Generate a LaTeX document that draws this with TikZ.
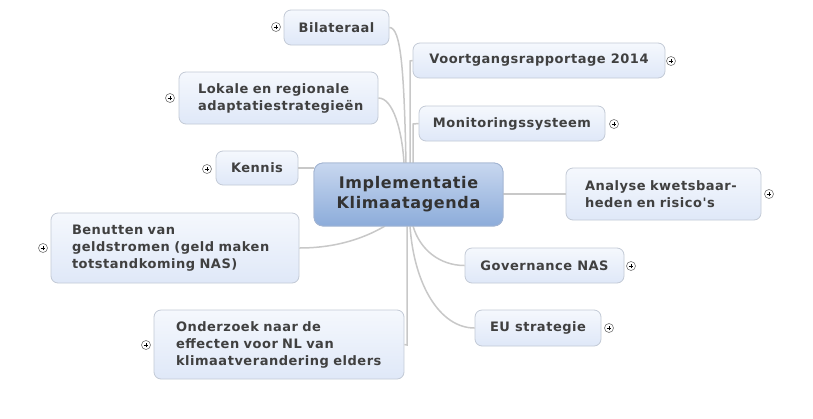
\documentclass[tikz,border=0pt]{standalone}
\usepackage{fontspec}
\setmainfont[LetterSpace=4, Ligatures=TeXOff]{DejaVu Sans}
\definecolor{boxtop}{HTML}{F5F8FD}
\definecolor{boxbot}{HTML}{DFE8F8}
\definecolor{boxedge}{HTML}{C3CAD6}
\definecolor{centop}{HTML}{C8D7EF}
\definecolor{cenbot}{HTML}{8CACDA}
\definecolor{cenedge}{HTML}{A3B5D2}
\definecolor{txt}{HTML}{404040}
\definecolor{cetxt}{HTML}{333333}
\definecolor{conn}{HTML}{C8C8C8}
\tikzset{
  box/.style={draw=boxedge, line width=0.8pt, rounded corners=7pt, top color=boxtop, bottom color=boxbot,
    text=txt, font=\bfseries\fontsize{13}{17}\selectfont, inner sep=0pt},
  mbox/.style={box, align=left, inner xsep=20pt},
  cenbox/.style={draw=cenedge, line width=0.8pt, rounded corners=9pt, top color=centop, bottom color=cenbot,
    text=cetxt, font=\bfseries\fontsize{16}{20}\selectfont, align=center, inner sep=0pt},
  plus/.style={circle, draw=black!55, fill=white, line width=0.6pt, minimum size=9pt, inner sep=0pt,
    path picture={\draw[black, line width=0.7pt] ([xshift=-2.3pt]path picture bounding box.center) -- ([xshift=2.3pt]path picture bounding box.center)
      ([yshift=-2.3pt]path picture bounding box.center) -- ([yshift=2.3pt]path picture bounding box.center);}},
  con/.style={draw=conn, line width=1.5pt}
}
\begin{document}
\begin{tikzpicture}[x=1pt,y=-1pt]
\useasboundingbox[fill=white] (0,0) rectangle (813,418);
\coordinate (t1) at (404,163);
\coordinate (t2) at (406,163);
\coordinate (t3) at (410,163);
\coordinate (t4) at (413,163);
\coordinate (b1) at (385,226);
\coordinate (b2) at (407,226);
\coordinate (b3) at (410,226);
\coordinate (b4) at (413,226);
\coordinate (vk) at (410,61);
\coordinate (mk) at (413,124);
\coordinate (ok) at (407,345);

% nodes
\node[box, minimum width=105pt, minimum height=35pt] (bil) at (336.5,27.5) {Bilateraal};
\node[box, minimum width=252pt, minimum height=35pt] (voo) at (539,60.5) {Voortgangsrapportage 2014\hspace{4pt}};
\node[mbox, text width=161pt, minimum height=52pt, inner xsep=19pt] (lok) at (278.5,98) {Lokale en regionale\\adaptatiestrategieën};
\node[box, minimum width=186pt, minimum height=35pt] (mon) at (512,123.5) {Monitoringssysteem\hspace{2pt}};
\node[box, minimum width=82pt, minimum height=34pt] (ken) at (257,168) {Kennis};
\node[cenbox, minimum width=189pt, minimum height=63pt] (cen) at (408.5,194.5) {Implementatie\\Klimaatagenda};
\node[mbox, text width=157pt, minimum height=52pt, inner xsep=19pt] (ana) at (663.5,194) {Analyse kwetsbaar-\\heden en risico's};
\node[mbox, text width=206pt, minimum height=70pt, inner xsep=21pt] (ben) at (175,248) {Benutten van\\geldstromen (geld maken\\totstandkoming NAS)};
\node[box, minimum width=159pt, minimum height=35pt] (gov) at (544.5,265.5) {Governance NAS};
\node[mbox, text width=206pt, minimum height=69pt, inner xsep=22pt] (ond) at (279,344.5) {Onderzoek naar de\\effecten voor NL van\\klimaatverandering elders};
\node[box, minimum width=126pt, minimum height=36pt] (eu) at (538,328) {EU strategie};

% connectors
\path[con] (bil.east) .. controls (401,27.5) and (404,70) .. (t2);
\path[con] (lok.east) .. controls (393,98) and (402,130) .. (t1);
\path[con] (t3) -- (vk) -- (voo.west);
\path[con] (t4) -- (mk) -- (mon.west);
\path[con] (ken.east) -- (ken.east -| cen.west);
\path[con] (cen.east |- ana.west) -- (ana.west);
\path[con] (ben.east) .. controls (340,248) and (368,236) .. (b1);
\path[con] (b2) -- (ok) -- (ond.east);
\path[con] (b3) .. controls (414,285) and (440,328) .. (eu.west);
\path[con] (b4) .. controls (420,250) and (440,265.5) .. (gov.west);

% central node drawn again over the connector ends
\node[cenbox, minimum width=189pt, minimum height=63pt] (cen2) at (408.5,194.5) {Implementatie\\Klimaatagenda};

% plus markers
\node[plus] (pbil) at (276,27) {};
\node[plus] (pvoo) at (671,61) {};
\node[plus] (plok) at (170,98) {};
\node[plus] (pmon) at (614,124) {};
\node[plus] (pken) at (207,169) {};
\node[plus] (pana) at (769,194) {};
\node[plus] (pben) at (43,248) {};
\node[plus] (pgov) at (631,266) {};
\node[plus] (pond) at (146,345) {};
\node[plus] (peu) at (609,328) {};
\end{tikzpicture}
\end{document}
